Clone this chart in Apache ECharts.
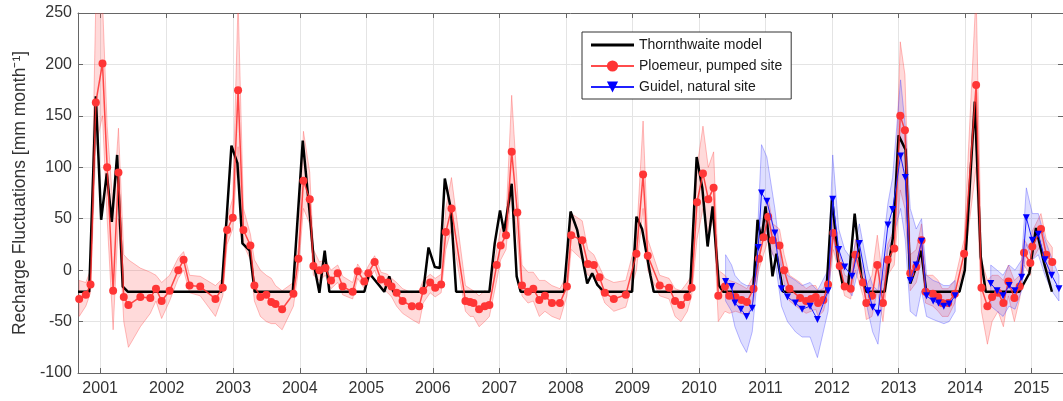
<!DOCTYPE html>
<html><head><meta charset="utf-8">
<script src="https://cdn.jsdelivr.net/npm/echarts@6/dist/echarts.min.js"></script>
<style>html,body{margin:0;padding:0;background:#fff}#c{width:1063px;height:401px}</style>
</head><body><div id="c"></div>
<script>
// ---- data (decimal years) ----
const yearTicks = [2001,2002,2003,2004,2005,2006,2007,2008,2009,2010,2011,2012,2013,2014,2015];

// Thornthwaite model: [time, recharge]
const thornthwaite = [
[2000.667,-21],[2000.835,-21],[2000.935,169],[2001.015,49],[2001.1,94],[2001.175,47],[2001.255,112],[2001.34,-16],[2001.415,-21],
[2002.823,-21],[2002.9,50],[2002.973,121],[2003.063,104],[2003.138,26],[2003.248,19],[2003.323,-21],
[2003.895,-21],[2004.045,126],[2004.145,58],[2004.22,3],[2004.295,-22],[2004.375,19],[2004.445,-21],
[2004.97,-21],[2005.045,-3],[2005.195,-15],[2005.27,-21],[2005.345,-6],[2005.405,-21],
[2005.855,-21],[2005.935,22],[2006.03,3],[2006.105,2],[2006.18,89],[2006.27,60],[2006.35,-21],
[2006.85,-21],[2006.93,26],[2007.01,58],[2007.07,37],[2007.185,84],[2007.26,-6],[2007.32,-21],
[2007.97,-21],[2008.07,57],[2008.17,39],[2008.32,-13],[2008.395,-3],[2008.47,-14],[2008.57,-21],
[2008.995,-21],[2009.06,52],[2009.145,40],[2009.27,-5],[2009.32,-21],
[2009.865,-21],[2009.965,110],[2010.05,80],[2010.13,23],[2010.205,62],[2010.3,-15],[2010.365,-21],
[2010.815,-21],[2010.88,49],[2010.94,29],[2011.0,62],[2011.105,-6],[2011.165,16],[2011.265,-21],
[2011.915,-21],[2012.0,70],[2012.09,10],[2012.165,-16],[2012.24,-16],[2012.34,55],[2012.44,-6],[2012.515,-21],
[2012.79,-21],[2012.915,32],[2013.0,131],[2013.105,117],[2013.175,-13],[2013.265,3],[2013.34,19],[2013.415,-21],
[2013.915,-21],[2013.995,0],[2014.145,164],[2014.235,13],[2014.31,-21],
[2014.815,-21],[2014.965,-3],[2015.065,41],[2015.19,6],[2015.305,-21]
];

// Ploemeur, pumped site: [time, value, lower, upper]
const ploemeur = [
[2000.685,-28,-45,-10],[2000.785,-24,-35,-12],[2000.855,-14,-22,0],[2000.935,163,120,262],[2001.035,201,150,262],
[2001.105,100,50,140],[2001.195,-20,-58,60],[2001.275,95,50,138],[2001.355,-26,-50,15],[2001.425,-34,-75,10],
[2001.604,-26,-55,2],[2001.754,-27,-42,-2],[2001.839,-18,-30,-5],[2001.924,-30,-47,-12],[2002.044,-20,-30,-5],
[2002.174,0,-8,12],[2002.254,10,0,18],[2002.344,-15,-22,-5],[2002.504,-16,-25,-6],[2002.733,-28,-45,-15],
[2002.843,-17,-25,-8],[2002.908,39,25,50],[2002.993,51,40,70],[2003.073,175,120,262],[2003.153,39,25,60],
[2003.258,24,10,35],[2003.318,-15,-30,10],[2003.408,-26,-45,0],[2003.497,-24,-50,-5],[2003.572,-31,-52,-8],
[2003.635,-33,-52,-15],[2003.735,-38,-58,-20],[2003.905,-23,-35,-12],[2003.98,11,0,25],[2004.055,87,60,135],
[2004.15,69,45,95],[2004.205,4,-5,20],[2004.295,0,-10,8],[2004.385,2,-5,10],[2004.47,-10,-18,0],
[2004.57,-3,-12,5],[2004.645,-16,-24,-6],[2004.795,-21,-28,-12],[2004.87,-1,-8,6],[2004.97,-11,-18,-4],
[2005.03,-3,-10,4],[2005.125,8,0,14],[2005.22,-9,-16,-2],[2005.32,-12,-22,-4],[2005.38,-16,-26,-8],
[2005.455,-22,-35,-12],[2005.545,-30,-42,-18],[2005.685,-35,-48,-22],[2005.795,-35,-52,-20],[2005.855,-20,-32,-10],
[2005.96,-12,-22,-4],[2006.035,-17,-26,-8],[2006.125,-14,-22,-4],[2006.195,37,20,60],[2006.28,60,40,90],
[2006.49,-30,-40,-15],[2006.56,-31,-45,-18],[2006.61,-32,-45,-20],[2006.695,-38,-55,-25],[2006.78,-35,-50,-20],
[2006.85,-34,-45,-22],[2006.96,5,-10,20],[2007.02,24,10,40],[2007.1,34,20,50],[2007.185,115,80,170],
[2007.27,56,30,80],[2007.34,-15,-25,5],[2007.43,-21,-32,-2],[2007.51,-18,-30,-2],[2007.6,-29,-45,-10],
[2007.685,-25,-40,-10],[2007.79,-32,-45,-15],[2007.91,-32,-48,-18],[2008.015,-16,-25,-5],[2008.08,34,20,55],
[2008.245,29,10,48],[2008.33,6,-5,20],[2008.42,5,-5,15],[2008.505,-7,-18,3],[2008.585,-22,-32,-8],
[2008.72,-28,-40,-12],[2008.9,-24,-36,-10],[2009.06,16,0,30],[2009.16,93,60,145],[2009.23,14,0,30],
[2009.41,-15,-25,-5],[2009.55,-17,-28,-8],[2009.64,-30,-45,-18],[2009.73,-34,-50,-20],[2009.825,-26,-40,-12],
[2009.89,-17,-25,-5],[2009.97,66,30,100],[2010.06,94,60,140],[2010.14,69,35,100],[2010.22,80,50,115],
[2010.29,-25,-50,0],[2010.39,-16,-40,-5],[2010.455,-25,-42,-10],[2010.55,-26,-40,-12],[2010.64,-29,-42,-15],
[2010.72,-31,-45,-18],[2010.82,-18,-30,-5],[2010.9,11,0,25],[2010.97,32,15,50],[2011.04,52,30,70],
[2011.11,29,15,45],[2011.21,24,10,40],[2011.28,0,-12,15],[2011.36,-18,-30,-5],[2011.52,-27,-38,-12],
[2011.61,-30,-42,-18],[2011.685,-28,-40,-15],[2011.755,-26,-38,-15],[2011.79,-32,-45,-20],[2011.87,-29,-40,-18],
[2011.94,-14,-22,-4],[2012.02,36,20,55],[2012.115,4,-5,15],[2012.19,-16,-25,-5],[2012.28,-18,-28,-8],
[2012.35,15,0,30],[2012.465,-12,-25,0],[2012.515,-32,-48,-15],[2012.6,-25,-45,-5],[2012.68,5,-20,34],
[2012.765,-32,-50,-10],[2012.835,10,-5,25],[2012.935,21,5,40],[2013.025,150,78,222],[2013.095,136,60,190],
[2013.175,-3,-20,15],[2013.265,3,-12,20],[2013.345,29,10,45],[2013.405,-21,-32,-5],[2013.515,-23,-35,-5],
[2013.595,-26,-40,-10],[2013.655,-32,-45,-18],[2013.745,-32,-45,-18],[2013.845,-23,-32,-10],[2013.985,16,5,30],
[2014.165,180,100,270],[2014.245,-17,-40,10],[2014.335,-35,-72,-10],[2014.405,-26,-50,-5],[2014.495,-22,-40,-5],
[2014.575,-32,-55,-10],[2014.65,-11,-25,5],[2014.74,-27,-50,-10],[2014.82,-16,-28,-5],[2014.885,17,5,30],
[2014.98,7,-5,20],[2015.01,23,10,38],[2015.14,40,25,55],[2015.22,15,0,30],[2015.31,8,-5,22]
];

// Guidel, natural site: [time, value, lower, upper] (null = no data)
const guidel = [
[2010.40,-11,-30,15],[2010.49,-16,-40,5],[2010.54,-32,-55,-5],[2010.63,-38,-70,-12],[2010.715,-45,-80,-15],
[2010.80,-37,-60,-15],[2010.89,22,0,50],[2010.94,75,40,122],[2011.02,67,30,110],[2011.14,36,10,60],
[2011.24,-18,-35,5],[2011.33,-26,-50,-5],[2011.45,-32,-60,-10],[2011.55,-38,-65,-15],[2011.67,-35,-65,-12],
[2011.78,-48,-85,-20],[2011.94,-20,-40,0],[2012.01,69,35,112],[2012.10,20,0,40],[2012.19,3,-15,20],
[2012.30,-6,-25,10],[2012.41,26,5,45],[2012.54,-20,-40,0],[2012.61,-36,-60,-15],[2012.69,-42,-72,-20],
[2012.84,44,20,65],[2012.91,59,30,90],[2013.03,111,60,185],[2013.10,90,30,140],[2013.175,-10,-40,60],
[2013.265,5,-45,40],[2013.345,28,-20,50],[2013.42,-25,-45,-5],[2013.52,-30,-48,-10],[2013.6,-32,-50,-12],
[2013.68,-35,-52,-15],[2013.76,-33,-50,-15],[2013.85,-25,-40,-10],
[2014.1,null,null,null],
[2014.385,-13,-35,5],[2014.48,-20,-40,0],[2014.57,-25,-45,-5],[2014.66,-15,-35,5],[2014.75,-20,-38,0],
[2014.85,-7,-20,10],[2014.92,51,25,80],[2015.01,29,10,55],[2015.1,35,15,55],[2015.2,10,-5,30],
[2015.3,-5,-20,12],[2015.41,-18,-30,-5]
];

// ---- chart ----
const font = 'Liberation Sans, Arial, Helvetica, sans-serif';
const xMin = 2000.667, xMax = 2015.471;

function segmentsOf(rows) {
  const segs = []; let cur = [];
  rows.forEach(r => {
    if (r[1] === null) { if (cur.length) segs.push(cur); cur = []; }
    else cur.push(r);
  });
  if (cur.length) segs.push(cur);
  return segs;
}
function bandSeries(name, rows, fill, stroke) {
  const segs = segmentsOf(rows);
  return {
    type: 'custom', name: name, clip: true, silent: true, z: 1,
    data: segs.map(s => [s[0][0], s[0][1]]),
    renderItem: function (params, api) {
      const s = segs[params.dataIndex];
      const up = s.map(r => api.coord([r[0], r[3]]));
      const lo = s.map(r => api.coord([r[0], r[2]])).reverse();
      return { type: 'polygon', shape: { points: up.concat(lo) },
               style: { fill: fill, stroke: stroke, lineWidth: 1 } };
    }
  };
}

const axisColor = '#666';
const gridColor = '#e4e4e4';
const chart = echarts.init(document.getElementById('c'));
chart.setOption({
  animation: false,
  backgroundColor: '#fff',
  grid: { left: 78, right: -3, top: 13, bottom: 28, containLabel: false },
  legend: {
    data: [
      { name: 'Thornthwaite model', icon: 'path://M0,0 L43,0 L43,3 L0,3 Z', itemStyle: { color: '#000' } },
      'Ploemeur, pumped site', 'Guidel, natural site'
    ],
    orient: 'vertical', left: 582, top: 32, padding: [6, 9, 5, 8],
    itemWidth: 43, itemHeight: 14, itemGap: 7,
    backgroundColor: '#fff', borderColor: '#333', borderWidth: 1, borderRadius: 0,
    textStyle: { fontFamily: font, fontSize: 14, color: '#1a1a1a' }
  },
  xAxis: [{
    type: 'value', min: xMin, max: xMax, position: 'bottom',
    axisLine: { show: true, onZero: false, lineStyle: { color: axisColor } },
    axisTick: { show: true, inside: true, length: 5, customValues: yearTicks, lineStyle: { color: axisColor } },
    axisLabel: { customValues: yearTicks, formatter: v => String(Math.round(v)), color: '#333',
                 fontFamily: font, fontSize: 16, margin: 8 },
    splitLine: { show: true, lineStyle: { color: gridColor } }
  }, {
    type: 'value', min: xMin, max: xMax, position: 'top',
    axisLine: { show: true, onZero: false, lineStyle: { color: axisColor } },
    axisTick: { show: true, inside: true, length: 5, customValues: yearTicks, lineStyle: { color: axisColor } },
    axisLabel: { show: false }, splitLine: { show: false }
  }],
  yAxis: [{
    type: 'value', min: -100, max: 250, interval: 50, position: 'left',
    name: 'Recharge Fluctuations [mm month\u207B\u00B9]', nameLocation: 'middle', nameGap: 46,
    nameTextStyle: { fontFamily: font, fontSize: 17.5, color: '#333' },
    axisLine: { show: true, onZero: false, lineStyle: { color: axisColor } },
    axisTick: { show: true, inside: true, length: 5, lineStyle: { color: axisColor } },
    axisLabel: { color: '#333', fontFamily: font, fontSize: 16, margin: 6 },
    splitLine: { show: true, lineStyle: { color: gridColor } }
  }, {
    type: 'value', min: -100, max: 250, interval: 50, position: 'right',
    axisLine: { show: true, onZero: false, lineStyle: { color: axisColor } },
    axisTick: { show: true, inside: true, length: 5, lineStyle: { color: axisColor } },
    axisLabel: { show: false }, splitLine: { show: false }
  }],
  series: [
    bandSeries('Ploemeur range', ploemeur, 'rgba(255,70,70,0.2)', 'rgba(255,70,70,0.35)'),
    bandSeries('Guidel range', guidel, 'rgba(60,60,255,0.17)', 'rgba(60,60,255,0.35)'),
    {
      name: 'Thornthwaite model', type: 'line', data: thornthwaite, symbol: 'none', showSymbol: false,
      lineStyle: { color: '#000', width: 2.5 }, itemStyle: { color: '#000' }, z: 3
    },
    {
      name: 'Ploemeur, pumped site', type: 'line', data: ploemeur.map(r => [r[0], r[1]]),
      symbol: 'circle', symbolSize: 8, showSymbol: true,
      lineStyle: { color: 'rgba(255,45,45,0.85)', width: 1.5 }, itemStyle: { color: '#ff3535' }, z: 4
    },
    {
      name: 'Guidel, natural site', type: 'line', data: guidel.map(r => [r[0], r[1]]),
      symbol: 'triangle', symbolRotate: 180, symbolSize: 7, showSymbol: true, connectNulls: false,
      lineStyle: { color: '#2020ff', width: 1 }, itemStyle: { color: '#0000ff' }, z: 5
    }
  ]
});
</script>
</body></html>
